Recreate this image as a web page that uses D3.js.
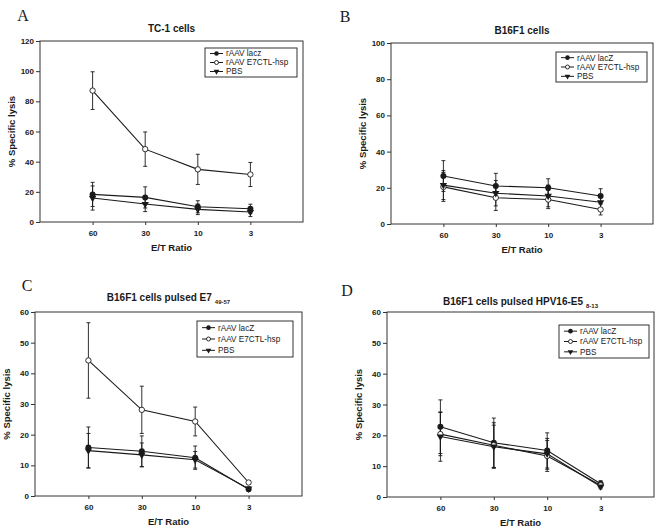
<!DOCTYPE html>
<html>
<head>
<meta charset="utf-8">
<script src="https://cdn.jsdelivr.net/npm/d3@7"></script>
<style>
  body { margin: 0; background: #fff; }
  svg { display: block; }
</style>
</head>
<body>
<svg id="chart" width="664" height="531"></svg>
<script>
// E/T ratios shared by all four panels
const ratios = ["60", "30", "10", "3"];
const seriesNames = ["rAAV lacz", "rAAV E7CTL-hsp", "PBS"];

// Panel A: TC-1 cells
const aLacz = [18.3, 16.3, 10.1, 8.8];
const aLaczErr = [8, 7, 4, 3];
const aE7 = [87.1, 48.3, 34.9, 31.5];
const aE7Err = [12.5, 11.4, 10, 8];
const aPbs = [15.9, 11.9, 8.4, 6.6];
const aPbsErr = [8, 5, 3.5, 3];

// Panel B: B16F1 cells
const bLacz = [26.5, 21, 20, 15.5];
const bLaczErr = [8.5, 7, 5, 4];
const bE7 = [20.5, 14.5, 13.5, 8];
const bE7Err = [8, 7, 5, 3];
const bPbs = [21.5, 17, 15.5, 12];
const bPbsErr = [8, 7, 6, 4];

// Panel C: B16F1 pulsed E7 49-57
const cLacz = [15.8, 14.6, 12.5, 2.2];
const cLaczErr = [6.7, 5, 3.8, 0.5];
const cE7 = [44.2, 28.1, 24.3, 4.4];
const cE7Err = [12.3, 7.7, 4.7, 0.5];
const cPbs = [14.8, 13.4, 11.8, 2.4];
const cPbsErr = [5.6, 3.9, 2.7, 0.5];

// Panel D: B16F1 pulsed HPV16-E5 8-13
const dLacz = [22.8, 17.6, 15.1, 4.3];
const dLaczErr = [8.7, 8, 5.7, 1];
const dE7 = [20.4, 16.8, 13.3, 3.8];
const dE7Err = [7, 7.3, 5, 0.8];
const dPbs = [19.6, 16.3, 14.0, 3.4];
const dPbsErr = [8, 7, 5, 0.8];

const panels = [
  { letter: "A", title: "TC-1 cells", sub: "", yMax: 120, yStep: 20,
    legendName: "rAAV lacz",
    box: { l: 40, r: 303, t: 41, b: 222 }, letterPos: [23, 21], titleY: 32,
    legend: { x: 205, y: 48, w: 92, h: 29 },
    series: [[aLacz, aLaczErr], [aE7, aE7Err], [aPbs, aPbsErr]] },
  { letter: "B", title: "B16F1 cells", sub: "", yMax: 100, yStep: 20,
    legendName: "rAAV lacZ",
    box: { l: 391, r: 653, t: 43, b: 224 }, letterPos: [345, 22], titleY: 34,
    legend: { x: 556, y: 52, w: 91, h: 30 },
    series: [[bLacz, bLaczErr], [bE7, bE7Err], [bPbs, bPbsErr]] },
  { letter: "C", title: "B16F1 cells pulsed E7", sub: "49-57", yMax: 60, yStep: 10,
    legendName: "rAAV lacZ",
    box: { l: 35, r: 302, t: 312, b: 496 }, letterPos: [27, 291], titleY: 301,
    legend: { x: 197, y: 321, w: 96, h: 36 },
    series: [[cLacz, cLaczErr], [cE7, cE7Err], [cPbs, cPbsErr]] },
  { letter: "D", title: "B16F1 cells pulsed HPV16-E5", sub: "8-13", yMax: 60, yStep: 10,
    legendName: "rAAV lacZ",
    box: { l: 387, r: 654, t: 312, b: 497 }, letterPos: [347, 296], titleY: 305,
    legend: { x: 559, y: 325, w: 90, h: 33 },
    series: [[dLacz, dLaczErr], [dE7, dE7Err], [dPbs, dPbsErr]] }
];

const INK = "#1a1a1a";
const FONT = "Liberation Sans, Arial, sans-serif";

const svg = d3.select("#chart");

function drawMarker (g, kind, x, y, r) {
    if (kind === 0) {
        g.append("circle").attr("cx", x).attr("cy", y).attr("r", r).attr("fill", INK);
    } else if (kind === 1) {
        g.append("circle").attr("cx", x).attr("cy", y).attr("r", r - 0.3)
            .attr("fill", "#fff").attr("stroke", INK).attr("stroke-width", 0.9);
    } else {
        const tri = d3.symbol().type(d3.symbolTriangle).size(r * r * 2.6);
        g.append("path").attr("d", tri())
            .attr("transform", "translate(" + x + "," + y + ") rotate(180)")
            .attr("fill", INK);
    }
}

panels.forEach((p) => {
    const g = svg.append("g");
    const box = p.box;

    const x = d3.scalePoint().domain(ratios).range([box.l, box.r]).padding(1);
    const y = d3.scaleLinear().domain([0, p.yMax]).range([box.b, box.t]);

    // panel letter and title
    g.append("text").attr("x", p.letterPos[0]).attr("y", p.letterPos[1])
        .attr("text-anchor", "middle").attr("font-family", "Liberation Serif, Times New Roman, serif")
        .attr("font-size", 16).attr("fill", INK).text(p.letter);

    const title = g.append("text").attr("x", (box.l + box.r) / 2).attr("y", p.titleY)
        .attr("text-anchor", "middle").attr("font-family", FONT).attr("font-weight", "bold")
        .attr("font-size", 10).attr("fill", INK).text(p.title);
    if (p.sub) {
        title.append("tspan").attr("font-size", 6).attr("dx", 3).attr("dy", 3).text(p.sub);
    }

    // frame
    g.append("rect").attr("x", box.l).attr("y", box.t)
        .attr("width", box.r - box.l).attr("height", box.b - box.t)
        .attr("fill", "none").attr("stroke", "#333").attr("stroke-width", 1);

    // axes
    const yAxis = d3.axisLeft(y).tickValues(d3.range(0, p.yMax + 1, p.yStep))
        .tickSize(4).tickPadding(2);
    const yg = g.append("g").attr("transform", "translate(" + box.l + ",0)").call(yAxis);
    const xAxis = d3.axisBottom(x).tickSize(3).tickPadding(5);
    const xg = g.append("g").attr("transform", "translate(0," + box.b + ")").call(xAxis);
    [yg, xg].forEach((ax) => {
        ax.select(".domain").remove();
        ax.selectAll("line").attr("stroke", "#333");
        ax.selectAll("text").attr("font-family", FONT).attr("font-weight", "bold")
            .attr("font-size", 8).attr("fill", INK);
    });

    g.append("text").attr("x", (box.l + box.r) / 2).attr("y", box.b + 29)
        .attr("text-anchor", "middle").attr("font-family", FONT).attr("font-weight", "bold")
        .attr("font-size", 9.5).attr("fill", INK).text("E/T Ratio");
    g.append("text")
        .attr("transform", "translate(" + (box.l - 25) + "," + ((box.t + box.b) / 2) + ") rotate(-90)")
        .attr("text-anchor", "middle").attr("font-family", FONT).attr("font-weight", "bold")
        .attr("font-size", 9.5).attr("fill", INK).text("% Specific lysis");

    const line = d3.line().x((d, i) => x(ratios[i])).y((d) => y(d));

    // lines
    p.series.forEach((s) => {
        g.append("path").attr("d", line(s[0])).attr("fill", "none")
            .attr("stroke", INK).attr("stroke-width", 1.1);
    });

    // error bars
    p.series.forEach((s) => {
        s[0].forEach((v, i) => {
            const cx = x(ratios[i]);
            const hi = y(v + s[1][i]);
            const lo = y(Math.max(0, v - s[1][i]));
            g.append("line").attr("x1", cx).attr("x2", cx).attr("y1", hi).attr("y2", lo)
                .attr("stroke", INK).attr("stroke-width", 0.9);
            [hi, lo].forEach((yy) => {
                g.append("line").attr("x1", cx - 2).attr("x2", cx + 2).attr("y1", yy).attr("y2", yy)
                    .attr("stroke", INK).attr("stroke-width", 0.9);
            });
        });
    });

    // markers
    p.series.forEach((s, k) => {
        s[0].forEach((v, i) => drawMarker(g, k, x(ratios[i]), y(v), 3));
    });

    // legend
    const L = p.legend;
    g.append("rect").attr("x", L.x).attr("y", L.y).attr("width", L.w).attr("height", L.h)
        .attr("fill", "#fff").attr("stroke", "#333").attr("stroke-width", 1);
    const names = [p.legendName, seriesNames[1], seriesNames[2]];
    const rowH = (L.h - 2) / 3;
    names.forEach((name, k) => {
        const ry = L.y + 1 + rowH * (k + 0.5);
        g.append("line").attr("x1", L.x + 5).attr("x2", L.x + 18).attr("y1", ry).attr("y2", ry)
            .attr("stroke", INK).attr("stroke-width", 1);
        drawMarker(g, k, L.x + 11.5, ry, 2.3);
        g.append("text").attr("x", L.x + 21).attr("y", ry + 2.9)
            .attr("font-family", FONT).attr("font-size", 8.2).attr("fill", INK).text(name);
    });
});
</script>
</body>
</html>
